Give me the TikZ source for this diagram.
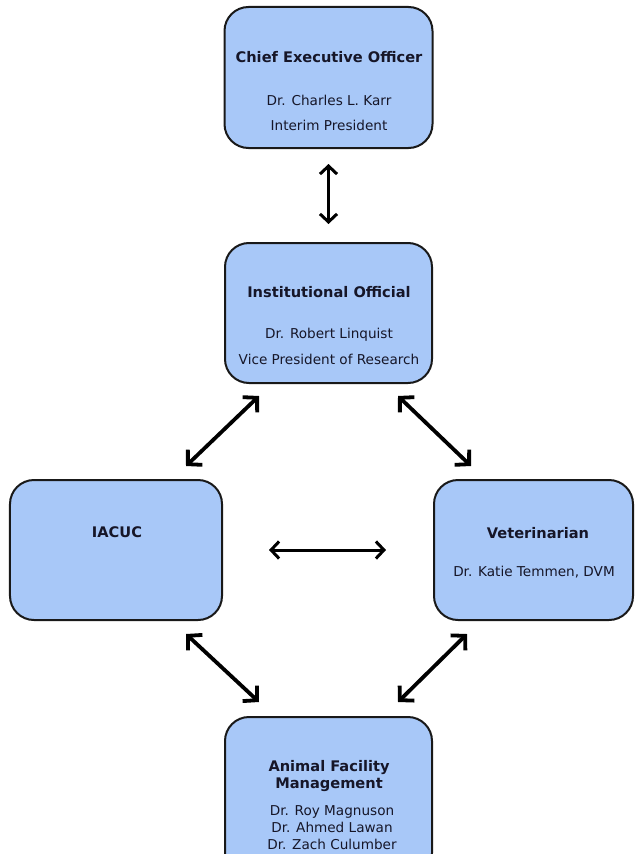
\documentclass[tikz,border=0pt]{standalone}
\usepackage{fontspec}
\setmainfont{DejaVu Sans}
\usetikzlibrary{arrows.meta,calc}
\definecolor{boxblue}{RGB}{168,200,248}
\definecolor{ink}{RGB}{22,22,40}
\tikzset{
  box/.style={draw=black!90, line width=2bp, rounded corners=24bp, fill=boxblue},
  head/.style={font=\fontsize{14.6bp}{17bp}\selectfont\bfseries, text=ink, align=center, inner sep=0pt},
  person/.style={font=\fontsize{13.6bp}{17bp}\selectfont, text=ink, align=center, inner sep=0pt},
  link/.style={{Straight Barb[length=8bp,width=17bp]}-{Straight Barb[length=8bp,width=17bp]}, line width=3bp},
  diag/.style={{Straight Barb[length=10bp,width=21bp]}-{Straight Barb[length=10bp,width=21bp]}, line width=3.8bp}
}
\begin{document}
\begin{tikzpicture}[x=1bp,y=-1bp]
        \useasboundingbox (0,0) rectangle (636,854);
        % boxes
        \node[box, minimum width=208bp, minimum height=141bp] (ceo) at (328.5,77.5) {};
        \node[box, minimum width=207bp, minimum height=140bp] (io) at (328.5,313) {};
        \node[box, minimum width=212bp, minimum height=140bp] (iacuc) at (116,550) {};
        \node[box, minimum width=199bp, minimum height=140bp] (vet) at (533.5,550) {};
        \node[box, minimum width=207bp, minimum height=160bp] (afm) at (328.5,797) {};
        % texts
        \node[head] (ceohead) at (329,57) {Chief Executive Officer};
        \node[person] (ceoname) at (329,100) {Dr. Charles L. Karr};
        \node[person] (ceorole) at (329,125) {Interim President};
        \node[head] (iohead) at (329,292) {Institutional Official};
        \node[person] (ioname) at (329,335) {Dr. Robert Linquist};
        \node[person] (iorole) at (329,359) {Vice President of Research};
        \node[head] (iacuchead) at (117,532) {IACUC};
        \node[head] (vethead) at (538,533) {Veterinarian};
        \node[person] (vetname) at (534,572) {Dr. Katie Temmen, DVM};
        \node[head] (afmhead) at (329,776.5) {Animal Facility\\Management};
        \node[person] (afmnames) at (332,828) {Dr. Roy Magnuson\\Dr. Ahmed Lawan\\Dr. Zach Culumber};
        % arrows
        \draw[link, shorten <=15bp, shorten >=18bp] (ceo) -- (io);
        \draw[link, shorten <=46bp, shorten >=47bp] (iacuc) -- (vet);
        \draw[diag] ($(io.south west)+(35,12)$) -- ($(iacuc.north east)+(-37,-13)$);
        \draw[diag] ($(io.south east)+(-35,12)$) -- ($(vet.north west)+(38,-13)$);
        \draw[diag] ($(iacuc.south east)+(-37,13)$) -- ($(afm.north west)+(35,-14)$);
        \draw[diag] ($(vet.south west)+(34,13)$) -- ($(afm.north east)+(-35,-14)$);
\end{tikzpicture}
\end{document}
